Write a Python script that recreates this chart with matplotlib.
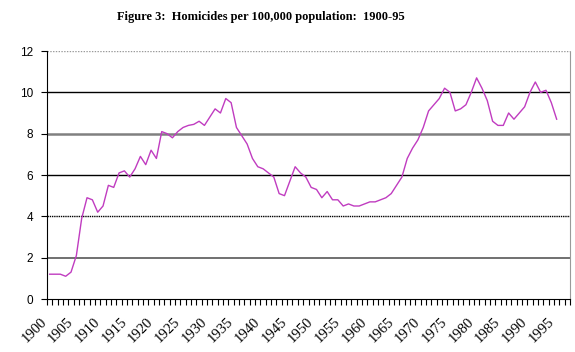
import matplotlib
matplotlib.use('Agg')
import matplotlib.pyplot as plt
from matplotlib.transforms import ScaledTranslation
import numpy as np

# Homicides per 100,000 population
years = np.arange(1900, 1996)
rates = [
    1.2, 1.2, 1.2, 1.1, 1.3, 2.1, 3.9, 4.9, 4.8, 4.2,   # 1900s
    4.5, 5.5, 5.4, 6.1, 6.2, 5.9, 6.3, 6.9, 6.5, 7.2,   # 1910s
    6.8, 8.1, 8.0, 7.8, 8.1, 8.3, 8.4, 8.45, 8.6, 8.4,  # 1920s
    8.8, 9.2, 9.0, 9.7, 9.5, 8.3, 7.9, 7.5, 6.8, 6.4,   # 1930s
    6.3, 6.1, 5.9, 5.1, 5.0, 5.7, 6.4, 6.1, 5.9, 5.4,   # 1940s
    5.3, 4.9, 5.2, 4.8, 4.8, 4.5, 4.6, 4.5, 4.5, 4.6,   # 1950s
    4.7, 4.7, 4.8, 4.9, 5.1, 5.5, 5.9, 6.8, 7.3, 7.7,   # 1960s
    8.3, 9.1, 9.4, 9.7, 10.2, 10.0, 9.1, 9.2, 9.4, 10.0,  # 1970s
    10.7, 10.2, 9.6, 8.6, 8.4, 8.4, 9.0, 8.7, 9.0, 9.3,   # 1980s
    10.0, 10.5, 10.0, 10.1, 9.5, 8.7,                    # 1990s
]
label_years = np.arange(1900, 1996, 5)
y_ticks = [0, 2, 4, 6, 8, 10, 12]
title = 'Figure 3:  Homicides per 100,000 population:  1900-95'

fig = plt.figure(figsize=(5.75, 3.52), dpi=100)
ax = fig.add_axes([47 / 575, 1 - 299 / 352, 523 / 575, 248 / 352])

# gridlines, styled like the dithered Excel export
grid_style = {
    12: dict(color='#9a9a9a', lw=1.0, ls=(0, (1, 1))),
    10: dict(color='black', lw=1.0, ls='-'),
    8: dict(color='#808080', lw=1.8, ls='-'),
    6: dict(color='black', lw=1.0, ls='-'),
    4: dict(color='black', lw=1.0, ls=(0, (1, 0.6))),
    2: dict(color='#707070', lw=1.4, ls='-'),
}
for v, st in grid_style.items():
    ax.axhline(v, zorder=1, **st)

ax.plot(years, rates, color='#c03cc0', lw=1.0, zorder=3)

ax.set_xlim(1899.5, 1997.5)
ax.set_ylim(0, 12)

# year labels on category centres, tick marks on category boundaries
ax.set_xticks(label_years)
ax.set_xticklabels([str(y) for y in label_years], rotation=45, ha='right',
                   va='center', rotation_mode='anchor',
                   fontsize=10.5, family='Liberation Serif')
ax.set_xticks(np.arange(1899.5, 1998, 1), minor=True)
ax.tick_params(axis='x', which='major', length=0, pad=15)
ax.tick_params(axis='x', which='minor', length=4, width=0.8, direction='out')
shift = ScaledTranslation(-5 / 100, 0, fig.dpi_scale_trans)
for lab in ax.get_xticklabels():
    lab.set_transform(lab.get_transform() + shift)

ax.set_yticks(y_ticks)
ax.set_yticklabels([str(v) for v in y_ticks], fontsize=8.5,
                   family='Liberation Sans')
ax.tick_params(axis='y', length=4, width=0.8, direction='out', pad=6)

ax.spines['top'].set_visible(False)
ax.spines['right'].set_color('#9a9a9a')
ax.spines['right'].set_linestyle((0, (1, 1)))
ax.spines['left'].set_color('black')
ax.spines['bottom'].set_color('black')

fig.text(261 / 575, 1 - 17 / 352, title, ha='center', va='center',
         fontsize=8.9, fontweight='bold', family='Liberation Serif')

fig.savefig('out.png', dpi=100)
